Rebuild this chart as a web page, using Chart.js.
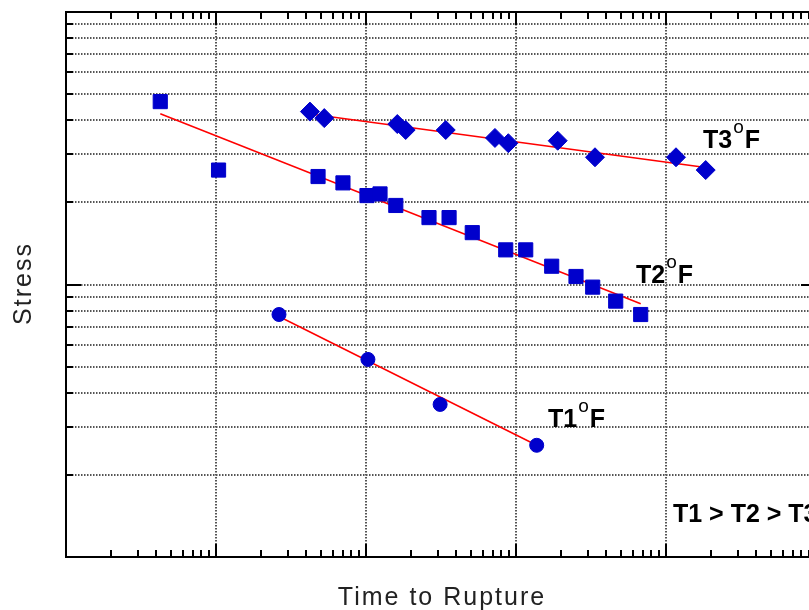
<!DOCTYPE html>
<html>
<head>
<meta charset="utf-8">
<script src="https://cdn.jsdelivr.net/npm/chart.js@4.4.1/dist/chart.umd.min.js"></script>
<style>
  html, body { margin: 0; padding: 0; background: #fff; overflow: hidden; }
  #wrap { width: 809px; height: 610px; overflow: hidden; }
</style>
</head>
<body>
<div id="wrap"><canvas id="chart" width="830" height="610"></canvas></div>
<script>
// T1 (highest temperature) - circles
const t1Time = [26.3, 103, 312, 1374];
const t1Stress = [7.76, 5.31, 3.63, 2.57];
const t1FitTime = [26.3, 1374];
const t1FitStress = [7.63, 2.57];

// T2 - squares
const t2Time = [4.25, 10.4, 47.9, 70.2, 101.5, 124, 158, 263, 358, 511, 854, 1161, 1730, 2512, 3246, 4620, 6781];
const t2Stress = [46.9, 26.3, 24.9, 23.6, 21.2, 21.5, 19.5, 17.6, 17.6, 15.5, 13.4, 13.4, 11.67, 10.7, 9.78, 8.69, 7.76];
const t2FitTime = [4.25, 6781];
const t2FitStress = [42.3, 8.5];

// T3 (lowest temperature) - diamonds
const t3Time = [42.3, 52.7, 161.7, 183.9, 340, 724, 889, 1897, 3362, 11659, 18394];
const t3Stress = [43.1, 40.8, 38.8, 36.9, 36.9, 34.5, 33.0, 33.7, 29.3, 29.3, 26.3];
const t3FitTime = [42.3, 18394];
const t3FitStress = [42.2, 26.9];

// axis ranges and grid positions
const xDecades = [1, 10, 100, 1000, 10000, 100000];
const yGrid = [1, 2, 3, 4, 5, 6, 7, 8, 9, 10, 20, 30, 40, 50, 60, 70, 80, 90, 100];

// curve labels, anchored in data coordinates (left edge, baseline)
const curveLabels = [
  {name: 'T3', time: 17650, stress: 31.8},
  {name: 'T2', time: 6310, stress: 10.17},
  {name: 'T1', time: 1634, stress: 2.99}
];
const orderNote = {text: 'T1 > T2 > T3', time: 11135, stress: 1.344};

const xTitle = 'Time to Rupture';
const yTitle = 'Stress';

const BLUE = '#0000cc';
const RED = '#ff0000';

const pts = (xs, ys) => xs.map((v, i) => ({x: v, y: ys[i]}));

function markers(label, xs, ys, style, r) {
  return {
    label, data: pts(xs, ys), showLine: false, order: 0,
    pointStyle: style, pointRadius: r, pointHoverRadius: r,
    backgroundColor: BLUE, borderColor: BLUE, pointBorderWidth: 1
  };
}
function fitLine(label, xs, ys) {
  return {
    label, data: pts(xs, ys), showLine: true, order: 1,
    pointRadius: 0, borderColor: RED, borderWidth: 1.5, fill: false
  };
}

const frameAndText = {
  id: 'frameAndText',
  afterDraw(chart) {
    const {ctx, chartArea: a, scales: {x, y}} = chart;
    ctx.save();
    ctx.strokeStyle = '#000';
    ctx.lineWidth = 2;
    ctx.beginPath();
    ctx.rect(a.left, a.top, a.right - a.left, a.bottom - a.top);
    ctx.stroke();

    // inward tick marks on the x axis (top and bottom)
    ctx.beginPath();
    for (let d = 1; d < 100000; d *= 10) {
      for (let m = 1; m <= 10; m++) {
        const px = Math.round(x.getPixelForValue(m * d));
        const len = (m === 1 || m === 10) ? 13 : 7;
        ctx.moveTo(px, a.bottom); ctx.lineTo(px, a.bottom - len);
        ctx.moveTo(px, a.top); ctx.lineTo(px, a.top + len);
      }
    }
    // inward tick marks on the y axis
    yGrid.forEach(v => {
      const py = Math.round(y.getPixelForValue(v));
      const len = (v === 10) ? 15 : 7;
      ctx.moveTo(a.left, py); ctx.lineTo(a.left + len, py);
      ctx.moveTo(a.right, py); ctx.lineTo(a.right - len, py);
    });
    ctx.stroke();

    // curve labels with a superscript degree sign
    ctx.fillStyle = '#000';
    ctx.textBaseline = 'alphabetic';
    curveLabels.forEach(l => {
      let px = x.getPixelForValue(l.time);
      const py = y.getPixelForValue(l.stress);
      ctx.font = 'bold 25px "Liberation Sans", Arial, sans-serif';
      ctx.fillText(l.name, px, py);
      px += ctx.measureText(l.name).width + 1;
      ctx.font = '19px "Liberation Sans", Arial, sans-serif';
      ctx.fillText('o', px, py - 15);
      px += ctx.measureText('o').width + 1;
      ctx.font = 'bold 25px "Liberation Sans", Arial, sans-serif';
      ctx.fillText('F', px, py);
    });
    ctx.font = 'bold 25px "Liberation Sans", Arial, sans-serif';
    ctx.fillText(orderNote.text, x.getPixelForValue(orderNote.time), y.getPixelForValue(orderNote.stress));

    // axis titles
    ctx.fillStyle = '#222';
    ctx.font = '25px "Liberation Sans", Arial, sans-serif';
    ctx.letterSpacing = '2px';
    ctx.textAlign = 'center';
    ctx.fillText(xTitle, (a.left + a.right) / 2 + 1, 605);
    ctx.save();
    ctx.translate(31, (a.top + a.bottom) / 2);
    ctx.rotate(-Math.PI / 2);
    ctx.fillText(yTitle, 1, 0);
    ctx.restore();
    ctx.restore();
  }
};

const gridOpts = {color: '#555', lineWidth: 2, drawTicks: false};

new Chart(document.getElementById('chart').getContext('2d'), {
  type: 'scatter',
  data: {
    datasets: [
      markers('T1', t1Time, t1Stress, 'circle', 7),
      markers('T2', t2Time, t2Stress, 'rect', 10),
      markers('T3', t3Time, t3Stress, 'rectRot', 9.5),
      fitLine('T1 fit', t1FitTime, t1FitStress),
      fitLine('T2 fit', t2FitTime, t2FitStress),
      fitLine('T3 fit', t3FitTime, t3FitStress)
    ]
  },
  options: {
    responsive: false,
    animation: false,
    layout: {padding: {left: 66, top: 12, right: 14, bottom: 53}},
    plugins: {legend: {display: false}, tooltip: {enabled: false}},
    scales: {
      x: {
        type: 'logarithmic', min: 1, max: 100000,
        afterBuildTicks: s => { s.ticks = xDecades.map(v => ({value: v})); },
        ticks: {display: false},
        grid: gridOpts,
        border: {display: false, dash: [1.5, 1.5]}
      },
      y: {
        type: 'logarithmic', min: 1, max: 100,
        afterBuildTicks: s => { s.ticks = yGrid.map(v => ({value: v})); },
        ticks: {display: false},
        grid: gridOpts,
        border: {display: false, dash: [1.5, 1.5]}
      }
    }
  },
  plugins: [frameAndText]
});
</script>
</body>
</html>
